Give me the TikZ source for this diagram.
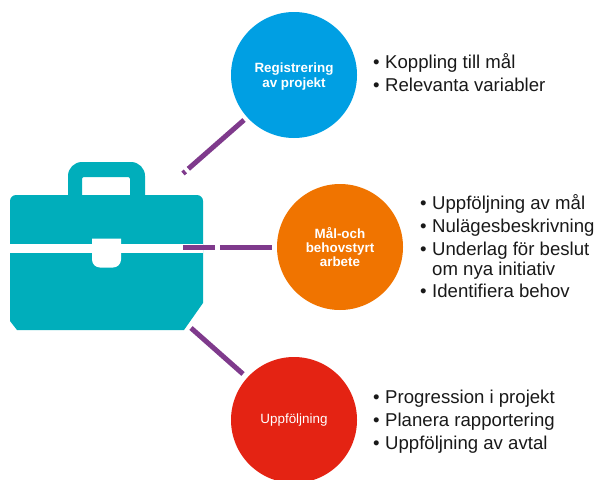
\documentclass[tikz,border=0pt]{standalone}
\usepackage{fontspec}
\setmainfont{Liberation Sans}
\definecolor{vaska}{HTML}{00AEBB}
\definecolor{linje}{HTML}{7F3A8C}
\definecolor{bla}{HTML}{009FE3}
\definecolor{orange}{HTML}{F07400}
\definecolor{rod}{HTML}{E42313}
\newcommand{\punkt}[1]{\makebox[12pt][l]{\textbullet}#1}
\tikzset{
  cirkel/.style={circle,minimum size=126pt,inner sep=0,text=white,align=center,
    font=\fontsize{13.4}{14.4}\selectfont\bfseries},
  lista/.style={anchor=north west,inner sep=0,align=left,text=black!90,
    font=\fontsize{18.6}{20.5}\selectfont},
  koppling/.style={draw=linje,line width=5pt}
}
\begin{document}
\begin{tikzpicture}[x=1pt,y=-1pt]
  \useasboundingbox (0,0) rectangle (596,479);
  % portfolj
  \fill[vaska,even odd rule] (10,201) arc[start angle=180,end angle=270,radius=6] -- (68,195) -- (68,176)
      arc[start angle=180,end angle=270,radius=14] -- (131,162) arc[start angle=270,end angle=360,radius=14]
      -- (145,195) -- (197,195) arc[start angle=270,end angle=360,radius=6] -- (203,303) -- (184,330) -- (17,330) -- (10,321) -- cycle
      (82,195) -- (82,179) arc[start angle=180,end angle=270,radius=2] -- (128,177)
      arc[start angle=270,end angle=360,radius=2] -- (130,195) -- cycle;
  \fill[white] (10,243.5) rectangle (203,252.7);
  \fill[white] (92,238.5) -- (121,238.5) -- (121,259.5) arc[start angle=0,end angle=90,radius=8] -- (100,267.5)
      arc[start angle=90,end angle=180,radius=8] -- cycle;
  % cirklar
  \node[cirkel,fill=bla] (registrering) at (294,75) {\\[-1.5pt]Registrering\\av projekt};
  \node[cirkel,fill=orange] (mal) at (340,247) {Mål-och\\behovstyrt\\arbete};
  \node[cirkel,fill=rod] (uppfoljning) at (294,420) {\mdseries Uppföljning};
  \coordinate (vaskaA) at (183,173.5);
  \coordinate (vaskaB) at (183,247);
  \coordinate (vaskaC) at (191,328);
  \draw[koppling,dash pattern=on 74pt off 4pt on 10pt] (registrering) ++(-50,45) -- (vaskaA);
  \draw[koppling,dash pattern=on 32pt off 5pt on 80pt] (vaskaB) -- ++(89,0);
  \draw[koppling] (vaskaC) -- ++(52,46);
  % listor
  \node[lista] (listaA) at (373,53) {\punkt{Koppling till mål}\\[2.5pt]\punkt{Relevanta variabler}};
  \node[lista] (listaB) at (420,194.5) {\punkt{Uppföljning av mål}\\[2.2pt]\punkt{Nulägesbeskrivning}\\[2.2pt]
    \punkt{Underlag för beslut}\\[-0.5pt]\hspace*{12pt}om nya initiativ\\[1.5pt]\punkt{Identifiera behov}};
  \node[lista] (listaC) at (373,390) {\punkt{Progression i projekt}\\[2.4pt]\punkt{Planera rapportering}\\[2.4pt]\punkt{Uppföljning av avtal}};
\end{tikzpicture}
\end{document}
